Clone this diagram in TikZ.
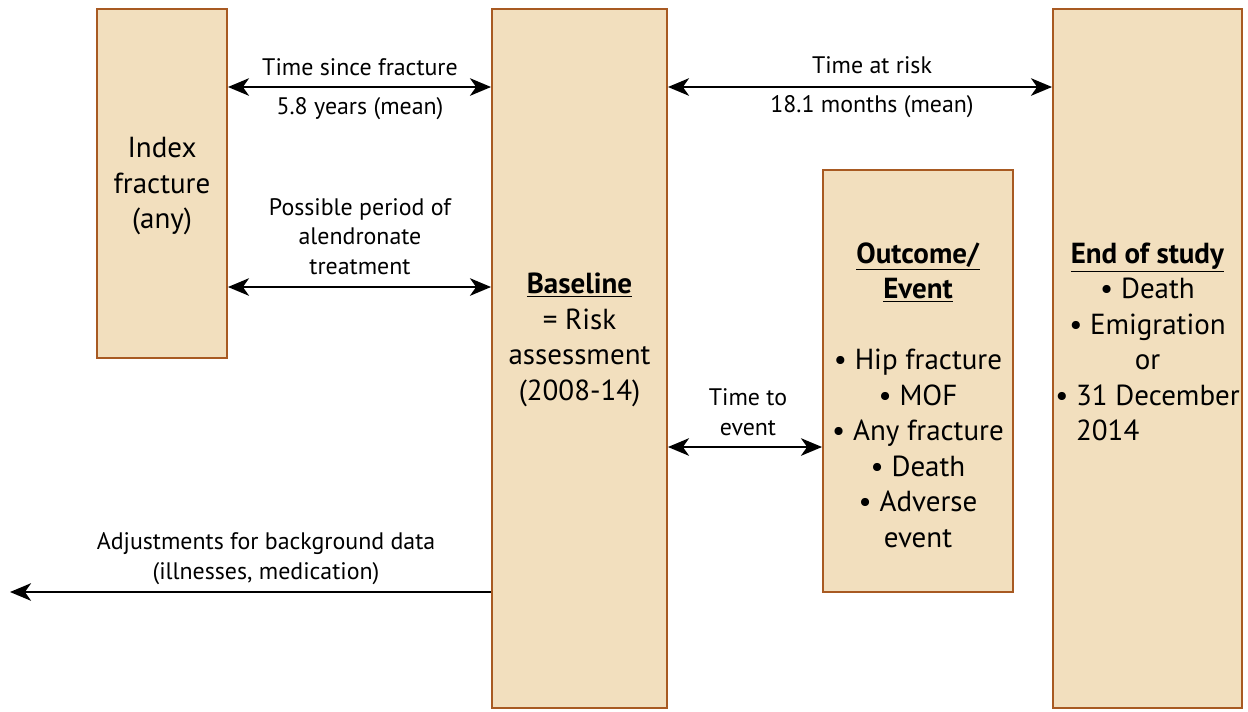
\documentclass[tikz,border=0pt]{standalone}
\usepackage{calc}
\usepackage{fontspec}
\setmainfont{PT Sans}
\usetikzlibrary{arrows.meta}

\definecolor{boxfill}{HTML}{F2DFBE}
\definecolor{boxline}{HTML}{A85A22}

\tikzset{
	stage/.style={draw=boxline,fill=boxfill,line width=1.1pt,inner sep=0pt},
	bigtxt/.style={align=center,font=\fontsize{16.5}{20.2}\selectfont,inner sep=0pt},
	smalltxt/.style={align=center,font=\fontsize{13.6}{16.8}\selectfont,inner sep=1pt},
	span/.style={line width=1.1pt,{Stealth[length=12pt,width=10pt,inset=3.5pt]}-{Stealth[length=12pt,width=10pt,inset=3.5pt]}},
	onearrow/.style={line width=1.1pt,-{Stealth[length=12pt,width=10pt,inset=3.5pt]}}
}

\begin{document}
\begin{tikzpicture}
	\useasboundingbox (0,0) rectangle (24.96,-14.22);
	
	%BOXES
	\node[stage,minimum width=2.6cm,minimum height=6.98cm] (idx) at (3.24,-3.67) {};
	\node[stage,minimum width=3.5cm,minimum height=13.98cm] (base) at (11.59,-7.17) {};
	\node[stage,minimum width=3.8cm,minimum height=8.44cm] (out) at (18.36,-7.62) {};
	\node[stage,minimum width=3.78cm,minimum height=13.98cm] (end) at (22.95,-7.17) {};
	
	%BOX TEXT
	\node[bigtxt] (idxtxt) at (3.24,-3.73) {Index\\fracture\\(any)};
	\node[bigtxt] (basetxt) at (11.59,-6.80) {\underline{\textbf{Baseline}}\\= Risk\\assessment\\(2008-14)};
	\node[bigtxt] (outtxt) at (18.36,-7.90) {\underline{\textbf{Outcome/}}\\\underline{\textbf{Event}}\\[20.2pt]%
		\textbullet\ Hip fracture\\\textbullet\ MOF\\\textbullet\ Any fracture\\\textbullet\ Death\\\textbullet\ Adverse\\event};
	\node[bigtxt] (endtxt) at (22.95,-6.84) {\underline{\textbf{End of study}}\\\textbullet\ Death\\\textbullet\ Emigration\\or\\%
		\textbullet\ 31 December\\\makebox[\widthof{\textbullet\ 31 December}][l]{\phantom{\textbullet\ }2014}};
	
	%ARROWS
	\draw[span] (idx.east |- 0,-1.74) -- (base.west |- 0,-1.74);
	\draw[span] (idx.east |- 0,-5.74) -- (base.west |- 0,-5.74);
	\draw[span] (base.east |- 0,-1.74) -- (end.west |- 0,-1.74);
	\draw[span] (base.east |- 0,-8.94) -- (out.west |- 0,-8.94);
	\coordinate (leftend) at (0.2,-11.84);
	\draw[onearrow] (base.west |- leftend) -- (leftend);
	
	%ARROW LABELS
	\node[smalltxt] (tsf) at (7.2,-1.34) {Time since fracture};
	\node[smalltxt] (tsfval) at (7.2,-2.17) {5.8 years (mean)};
	\node[smalltxt] (alen) at (7.2,-4.73) {Possible period of\\alendronate\\treatment};
	\node[smalltxt] (tar) at (17.44,-1.30) {Time at risk};
	\node[smalltxt] (tarval) at (17.44,-2.14) {18.1 months (mean)};
	\node[smalltxt] (tte) at (14.96,-8.24) {Time to\\event};
	\node[smalltxt] (adj) at (5.32,-11.17) {Adjustments for background data\\(illnesses, medication)};
\end{tikzpicture}
\end{document}
